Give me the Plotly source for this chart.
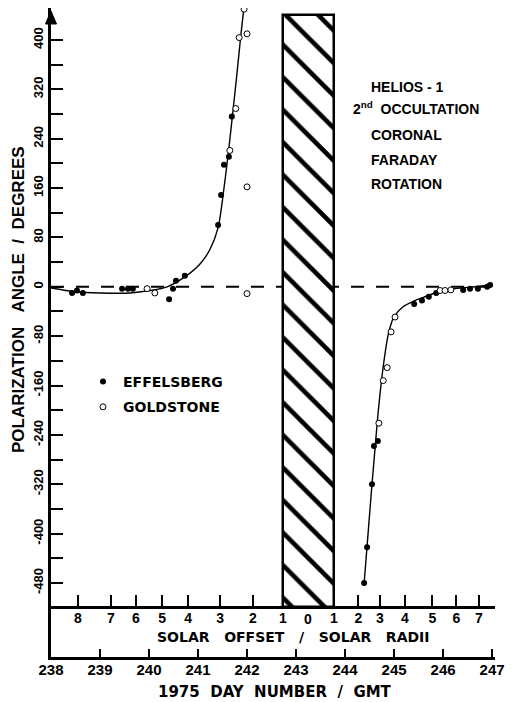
import plotly.graph_objects as go

# ---------------- data ----------------
effelsberg_day = [238.43, 238.53, 238.65, 239.45, 239.57, 239.67, 240.41, 240.49, 240.55, 240.73,
                  241.41, 241.47, 241.53, 241.63, 241.69,
                  244.39, 244.45, 244.55, 244.59, 244.67, 245.41, 245.57, 245.71, 245.86,
                  246.41, 246.55, 246.71, 246.90, 246.96]
effelsberg_angle = [-10, -6, -10, -3, -3, -3, -20, -3, 10, 18,
                    100, 149, 198, 211, 276,
                    -480, -422, -320, -258, -250, -28, -22, -16, -10,
                    -5, -3, -3, 0, 3]

goldstone_day = [239.96, 240.12, 241.65, 241.77, 241.84, 241.94, 242.00, 242.00, 242.00,
                 244.69, 244.78, 244.86, 244.94, 245.02, 245.94, 246.04, 246.16]
goldstone_angle = [-3, -10, 221, 289, 404, 450, 410, 162, -11,
                   -221, -152, -131, -73, -49, -6, -6, -5]

fit_ingress_day = [238.00, 238.49, 239.00, 239.61, 240.02, 240.37, 240.73, 241.04, 241.24,
                   241.41, 241.53, 241.63, 241.72, 241.80, 241.87, 241.94]
fit_ingress_angle = [-2, -8, -10, -10, -6, 0, 16, 37, 60, 96, 160, 225, 290, 350, 405, 455]

fit_egress_day = [244.39, 244.47, 244.55, 244.62, 244.68, 244.78, 244.88, 244.99, 245.19,
                  245.41, 245.60, 245.84, 246.24, 246.65, 247.00]
fit_egress_angle = [-480, -400, -320, -255, -200, -129, -78, -50, -32, -23, -17, -10, -3, 0, 3]

# occultation (hatched) interval
occultation_start = 242.73
occultation_end = 243.77
occultation_top = 440

day_ticks = [238, 239, 240, 241, 242, 243, 244, 245, 246, 247]
offset_tick_days = [238.55, 239.22, 239.73, 240.27, 240.80, 241.45, 242.12, 242.73,
                    243.77, 244.27, 244.71, 245.22, 245.78, 246.27, 246.73]
offset_tick_labels = ["8", "7", "6", "5", "4", "3", "2", "1",
                      "1", "2", "3", "4", "5", "6", "7"]
offset_zero_day = 243.24
angle_ticks = list(range(-480, 401, 80))
angle_minor_ticks = list(range(-440, 361, 80))

# ---------------- geometry ----------------
# the page body has an 8px margin, so the figure is drawn 8px lower/righter
PAGE_OFF = 8
W, H = 513 - PAGE_OFF, 702 - PAGE_OFF
ML, MR, MT, MB = 43, 18, 0, 45
X_RANGE = [238.0, 247.06]
Y_RANGE = [-600.0, 451.9]
SOLAR_AXIS_VALUE = -519
plot_h = H - MT - MB
plot_w = W - ML - MR


def py2paper(page_py):
    return (H - MB - (page_py - PAGE_OFF)) / plot_h


def px2paper(page_px):
    return ((page_px - PAGE_OFF) - ML) / plot_w


solar_axis_pos = (SOLAR_AXIS_VALUE - Y_RANGE[0]) / (Y_RANGE[1] - Y_RANGE[0])

BOLD = dict(family="Liberation Sans, Arial, sans-serif", weight="bold", color="black")
WIDE = dict(family="DejaVu Sans, sans-serif", weight="bold", color="black")
NB = "\u00a0"

fig = go.Figure()

# hatched occultation block
fig.add_trace(go.Bar(
    x=[(occultation_start + occultation_end) / 2],
    y=[occultation_top - SOLAR_AXIS_VALUE],
    base=[SOLAR_AXIS_VALUE],
    width=[occultation_end - occultation_start],
    marker=dict(color="white",
                line=dict(color="black", width=2.5),
                pattern=dict(shape="\\", size=23, solidity=0.2,
                             fgcolor="black", bgcolor="white")),
    showlegend=False, hoverinfo="skip"))

# fitted curves
for xs, ys in [(fit_ingress_day, fit_ingress_angle), (fit_egress_day, fit_egress_angle)]:
    fig.add_trace(go.Scatter(x=xs, y=ys, mode="lines", cliponaxis=False,
                             line=dict(color="black", width=1.4, shape="spline", smoothing=0.8),
                             showlegend=False, hoverinfo="skip"))

fig.add_trace(go.Scatter(x=effelsberg_day, y=effelsberg_angle, mode="markers",
                         name="EFFELSBERG", legendgroup="a", cliponaxis=False,
                         marker=dict(symbol="circle", size=6, color="black",
                                     line=dict(color="black", width=0))))
fig.add_trace(go.Scatter(x=goldstone_day, y=goldstone_angle, mode="markers",
                         name="GOLDSTONE", legendgroup="b", cliponaxis=False,
                         marker=dict(symbol="circle", size=6, color="white",
                                     line=dict(color="black", width=1))))

# solar offset axis (invisible trace so the axis is drawn)
fig.add_trace(go.Scatter(x=X_RANGE, y=[0, 0], xaxis="x2", mode="lines",
                         line=dict(color="rgba(0,0,0,0)"), showlegend=False, hoverinfo="skip"))


def label(text, page_x, page_y, font, xanchor="center", angle=0, xref="paper", x=None):
    return dict(text=text, xref=xref, yref="paper",
                x=px2paper(page_x) if x is None else x, y=py2paper(page_y),
                xanchor=xanchor, yanchor="middle", textangle=angle,
                showarrow=False, font=font)


annotations = [
    label("POLARIZATION" + NB * 3 + "ANGLE" + NB * 2 + "/" + NB * 2 + "DEGREES",
          18, 300, dict(size=17, **BOLD), angle=-90),
    label("SOLAR" + NB * 3 + "OFFSET" + NB * 3 + "/" + NB * 3 + "SOLAR" + NB * 3 + "RADII",
          293, 637, dict(size=14, **WIDE)),
    label("1975" + NB * 2 + "DAY" + NB * 2 + "NUMBER" + NB * 2 + "/" + NB * 2 + "GMT",
          275, 692, dict(size=15, **WIDE)),
    label("0", 0, 619, dict(size=14, **BOLD), xref="x", x=offset_zero_day),
    label("HELIOS - 1", 369, 87, dict(size=14, **BOLD), xanchor="left"),
    label("2<sup>nd</sup>" + NB * 2 + "OCCULTATION", 351, 108, dict(size=14, **BOLD),
          xanchor="left"),
    label("CORONAL", 369, 135, dict(size=14, **BOLD), xanchor="left"),
    label("FARADAY", 369, 160, dict(size=14, **BOLD), xanchor="left"),
    label("ROTATION", 369, 184, dict(size=14, **BOLD), xanchor="left"),
]

# arrow head on top of the y axis (paper-space triangle)
ax_x = px2paper(51)
half_w = 5.5 / plot_w
arrow_path = "M {:.5f},{:.5f} L {:.5f},{:.5f} L {:.5f},{:.5f} Z".format(
    ax_x - half_w, py2paper(24), ax_x, py2paper(11), ax_x + half_w, py2paper(24))

fig.update_layout(
    template="none",
    width=W, height=H,
    margin=dict(l=ML, r=MR, t=MT, b=MB, autoexpand=False),
    paper_bgcolor="white", plot_bgcolor="white",
    bargap=0,
    xaxis=dict(range=X_RANGE, domain=[0, 1], anchor="y", showgrid=False, zeroline=False,
               automargin=False,
               showline=True, linecolor="black", linewidth=2.5,
               tickmode="array", tickvals=day_ticks, ticktext=[str(d) for d in day_ticks],
               ticks="inside", ticklen=8, tickwidth=2, tickcolor="black",
               ticklabelstandoff=-3,
               tickfont=dict(size=15, **BOLD)),
    xaxis2=dict(range=X_RANGE, overlaying="x", anchor="free", position=solar_axis_pos,
                side="bottom", showgrid=False, zeroline=False, automargin=False,
                showline=True, linecolor="black", linewidth=3,
                tickmode="array", tickvals=offset_tick_days, ticktext=offset_tick_labels,
                ticks="inside", ticklen=11, tickwidth=2, tickcolor="black",
                ticklabelstandoff=-3,
                tickfont=dict(size=14, **BOLD)),
    yaxis=dict(range=Y_RANGE, domain=[0, 1], showgrid=False, zeroline=False,
               automargin=False,
               showline=True, linecolor="black", linewidth=3,
               tickmode="array", tickvals=angle_ticks, ticktext=[str(v) for v in angle_ticks],
               ticks="inside", ticklen=12, tickwidth=2, tickcolor="black",
               minor=dict(tickmode="array", tickvals=angle_minor_ticks, ticks="inside",
                          ticklen=12, tickwidth=2, tickcolor="black", showgrid=False),
               tickangle=-90, tickfont=dict(size=13, **BOLD)),
    shapes=[dict(type="line", xref="x", yref="y", x0=X_RANGE[0], x1=X_RANGE[1], y0=0, y1=0,
                 line=dict(color="black", width=2, dash="13px,12px"), layer="below"),
            dict(type="path", xref="paper", yref="paper", path=arrow_path,
                 fillcolor="black", line=dict(color="black", width=1), layer="above")],
    annotations=annotations,
    legend=dict(x=px2paper(83), y=py2paper(366), xanchor="left", yanchor="top",
                bgcolor="rgba(0,0,0,0)", font=dict(size=14, **WIDE),
                tracegroupgap=4),
    showlegend=True,
)

fig.write_html("out.html")
